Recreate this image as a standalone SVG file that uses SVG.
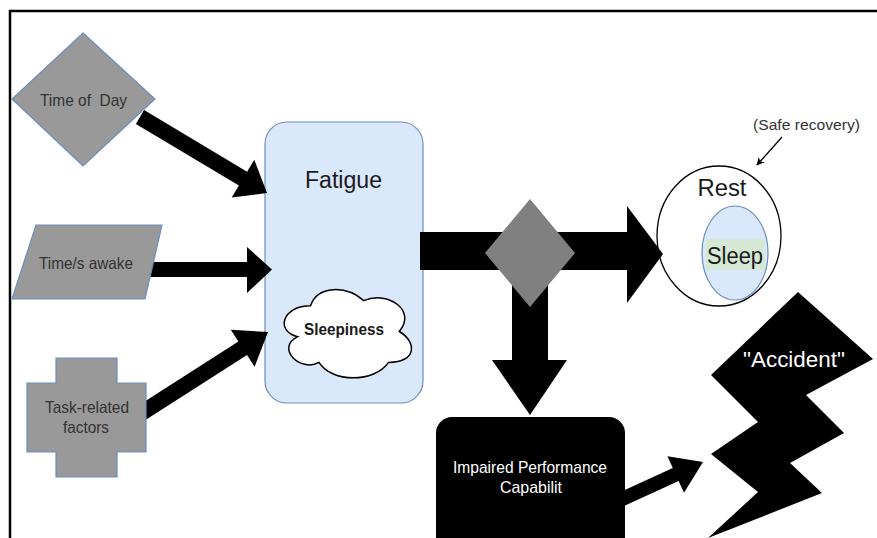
<svg xmlns="http://www.w3.org/2000/svg" width="877" height="538" viewBox="0 0 877 538">
  <style>
    text { font-family: "Liberation Sans", Arial, sans-serif; white-space: pre; }
    .gray { fill: #999999; stroke: #6c8ebf; stroke-width: 1.2; }
    .lbl { font-size: 16.5px; fill: #333333; text-anchor: middle; }
    .blue { fill: #dae8fc; stroke: #6c8ebf; stroke-width: 1.2; }
    .conn { fill: #000000; stroke: none; }
    .big { font-size: 23px; fill: #1a1a1a; text-anchor: middle; }
    .white { fill: #ffffff; text-anchor: middle; }
  </style>
  <defs>
    <marker id="thinhead" viewBox="0 0 10 10" refX="9" refY="5" markerWidth="8" markerHeight="8" orient="auto" markerUnits="userSpaceOnUse">
      <path d="M0,0 L10,5 L0,10 L3,5 Z" fill="#000"/>
    </marker>
  </defs>
  <rect width="877" height="538" fill="#ffffff"/>
  <path d="M10,538 V11 H877" fill="none" stroke="#000" stroke-width="2.5"/>

  <g id="fatigue">
    <rect x="265" y="122" width="158" height="281" rx="22" ry="22" class="blue"/>
    <text x="343.5" y="188" class="big" font-size="22" textLength="77" lengthAdjust="spacingAndGlyphs">Fatigue</text>
  </g>

  <g id="rest">
    <ellipse cx="719" cy="236" rx="62" ry="70" fill="#ffffff" stroke="#000" stroke-width="1.3"/>
    <text x="722" y="196" class="big" textLength="49" lengthAdjust="spacingAndGlyphs">Rest</text>
  </g>

  <g id="connectors">
    <polygon class="conn" points="144.1,110.1 247.1,171.7 254.3,159.7 267,193 231.7,197.5 238.9,185.5 135.9,123.9"/>
    <polygon class="conn" points="140,262 247,262 247,247 272,269.5 247,293 247,277 140,277"/>
    <polygon class="conn" points="135.7,407.3 238.4,341.5 230.8,329.7 268,332 254.6,366.7 247,354.9 144.3,420.7"/>
    <polygon class="conn" points="420,232 627,232 627,206 663,254 627,303 627,270 420,270"/>
    <polygon class="conn" points="512,250 548,250 548,360 567,360 530,415 492,360 512,360"/>
    <polygon class="conn" points="617.1,493.6 672.8,468.1 667.4,456.3 703,462 684,492.7 678.6,480.9 622.9,506.4"/>
    <line x1="782" y1="137" x2="757" y2="165" stroke="#000" stroke-width="1.3" marker-end="url(#thinhead)"/>
  </g>

  <g id="sleep">
    <ellipse cx="735" cy="253" rx="33" ry="47" class="blue"/>
    <rect x="706" y="239" width="59" height="31" fill="#d5e8d4"/>
    <text x="735" y="264" class="big" textLength="56" lengthAdjust="spacingAndGlyphs">Sleep</text>
  </g>

  <g id="sleepiness">
    <path d="M310.5,305.75 C282.1,305.75 275,331.5 297.7,336.65 C275,348 300.6,372.7 319,362.4 C331.8,383 374.4,383 388.6,362.4 C417,362.4 417,341.8 399.25,331.5 C417,310.9 388.6,290.3 363.75,300.6 C346,285.15 317.6,285.15 310.5,305.75 Z" fill="#ffffff" stroke="#000" stroke-width="1.5"/>
    <text x="344" y="335" font-size="16" font-weight="bold" fill="#1a1a1a" text-anchor="middle" textLength="80" lengthAdjust="spacingAndGlyphs">Sleepiness</text>
  </g>

  <g id="time-of-day">
    <polygon class="gray" points="83,33 155,99 83,166 12,99"/>
    <text x="83.5" y="106" class="lbl" textLength="87" lengthAdjust="spacingAndGlyphs">Time of  Day</text>
  </g>

  <g id="time-awake">
    <polygon class="gray" points="36,225 162,225 145,299 12,299"/>
    <text x="86" y="269" class="lbl" textLength="94" lengthAdjust="spacingAndGlyphs">Time/s awake</text>
  </g>

  <g id="task-related">
    <polygon class="gray" points="56,358 117,358 117,383 146,383 146,452 117,452 117,477 56,477 56,452 27,452 27,383 56,383"/>
    <text x="87" y="413" class="lbl" textLength="84" lengthAdjust="spacingAndGlyphs">Task-related</text>
    <text x="86" y="433" class="lbl" textLength="46" lengthAdjust="spacingAndGlyphs">factors</text>
  </g>

  <g id="decision">
    <polygon points="530,199 575,253 530,307 485,253" fill="#808080"/>
  </g>

  <g id="impaired">
    <rect x="436" y="417" width="189" height="140" rx="16" ry="16" fill="#000"/>
    <text x="530" y="473" font-size="17" class="white" textLength="154" lengthAdjust="spacingAndGlyphs">Impaired Performance</text>
    <text x="531" y="493" font-size="17" class="white" textLength="62" lengthAdjust="spacingAndGlyphs">Capabilit</text>
  </g>

  <g id="accident">
    <polygon points="798,292 873,359 806,395 844,433 790,463 822,493 708,538 758,492 711,454 758,422 711,375" fill="#000"/>
    <text x="794" y="367" font-size="22" class="white" textLength="102" lengthAdjust="spacingAndGlyphs">"Accident"</text>
  </g>

  <g id="safe-recovery">
    <text x="806.5" y="130" font-size="15" fill="#333333" text-anchor="middle" textLength="107" lengthAdjust="spacingAndGlyphs">(Safe recovery)</text>
  </g>
</svg>
